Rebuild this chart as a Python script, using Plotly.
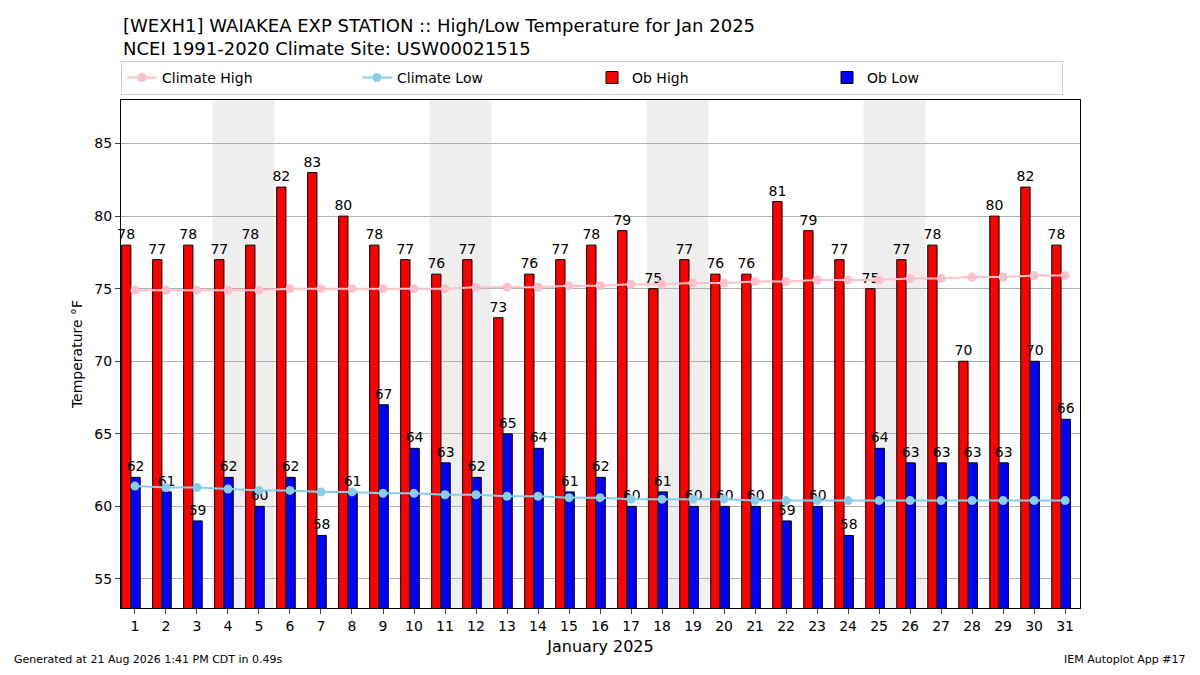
import plotly.graph_objects as go

days = list(range(1, 32))
ob_high = [78,77,78,77,78,82,83,80,78,77,76,77,73,76,77,78,79,75,77,76,76,81,79,77,75,77,78,70,80,82,78]
ob_low = [62,61,59,62,60,62,58,61,67,64,63,62,65,64,61,62,60,61,60,60,60,59,60,58,64,63,63,63,63,70,66]
clim_high = [74.9,74.9,74.9,74.9,74.9,75.0,75.0,75.0,75.0,75.0,75.0,75.1,75.1,75.1,75.2,75.2,75.3,75.3,75.4,75.4,75.5,75.5,75.6,75.6,75.6,75.7,75.7,75.8,75.8,75.9,75.9]
clim_low = [61.4,61.3,61.3,61.2,61.1,61.1,61.0,61.0,60.9,60.9,60.8,60.8,60.7,60.7,60.6,60.6,60.5,60.5,60.5,60.5,60.4,60.4,60.4,60.4,60.4,60.4,60.4,60.4,60.4,60.4,60.4]
weekends = [(4, 5), (11, 12), (18, 19), (25, 26)]

fig = go.Figure()
fig.add_trace(go.Bar(x=days, y=ob_high, name="Ob High", offset=-0.43, width=0.3, legendrank=3,
                     marker=dict(color="red", line=dict(color="black", width=1)),
                     text=[str(v) for v in ob_high], textposition="outside", constraintext="none",
                     textfont=dict(size=14, color="black"), cliponaxis=False))
fig.add_trace(go.Bar(x=days, y=ob_low, name="Ob Low", offset=-0.13, width=0.3, legendrank=4,
                     marker=dict(color="blue", line=dict(color="black", width=1)),
                     text=[str(v) for v in ob_low], textposition="outside", constraintext="none",
                     textfont=dict(size=14, color="black"), cliponaxis=False))
fig.add_trace(go.Scatter(x=days, y=clim_high, name="Climate High", mode="lines+markers", legendrank=1,
                         line=dict(color="pink", width=2), marker=dict(size=9, color="pink")))
fig.add_trace(go.Scatter(x=days, y=clim_low, name="Climate Low", mode="lines+markers", legendrank=2,
                         line=dict(color="skyblue", width=2), marker=dict(size=9, color="skyblue")))

for a, b in weekends:
    fig.add_vrect(x0=a - 0.5, x1=b + 0.5, fillcolor="#eeeeee", line_width=0, layer="below")

fig.update_layout(
    width=1184, height=659, plot_bgcolor="white", paper_bgcolor="white",
    font=dict(family="DejaVu Sans", size=13, color="black"),
    margin=dict(l=113, r=112, t=92, b=59, autoexpand=False),
    barmode="overlay",
    showlegend=True,
    legend=dict(orientation="h", x=0, y=1.01, xanchor="left", yanchor="bottom",
                entrywidth=190, bordercolor="#cccccc", borderwidth=1,
                font=dict(size=14)),
    xaxis=dict(range=[0.55, 31.48], tickmode="array", tickvals=days, ticks="outside", automargin=False,
               showline=True, linecolor="black", mirror=True, showgrid=False,
               title=dict(text="January 2025", font=dict(size=16), standoff=8), tickfont=dict(size=14)),
    yaxis=dict(range=[53, 88], tickvals=[55, 60, 65, 70, 75, 80, 85], ticks="outside", automargin=False,
               showline=True, linecolor="black", mirror=True, showgrid=True, gridcolor="#b0b0b0",
               title=dict(text="Temperature °F", font=dict(size=14), standoff=8), tickfont=dict(size=14),
               layer="above traces"),
)
fig.add_annotation(text="[WEXH1] WAIAKEA EXP STATION :: High/Low Temperature for Jan 2025<br>NCEI 1991-2020 Climate Site: USW00021515",
                   xref="paper", yref="paper", x=0, y=1.172, xanchor="left", yanchor="top",
                   showarrow=False, align="left", font=dict(size=18))
fig.add_annotation(text="Generated at 21 Aug 2026 1:41 PM CDT in 0.49s", xref="paper", yref="paper",
                   x=-0.1137, y=-0.085, xanchor="left", yanchor="top", showarrow=False, font=dict(size=11))
fig.add_annotation(text="IEM Autoplot App #17", xref="paper", yref="paper",
                   x=1.1126, y=-0.085, xanchor="right", yanchor="top", showarrow=False, font=dict(size=11))
fig.write_html("out.html")
